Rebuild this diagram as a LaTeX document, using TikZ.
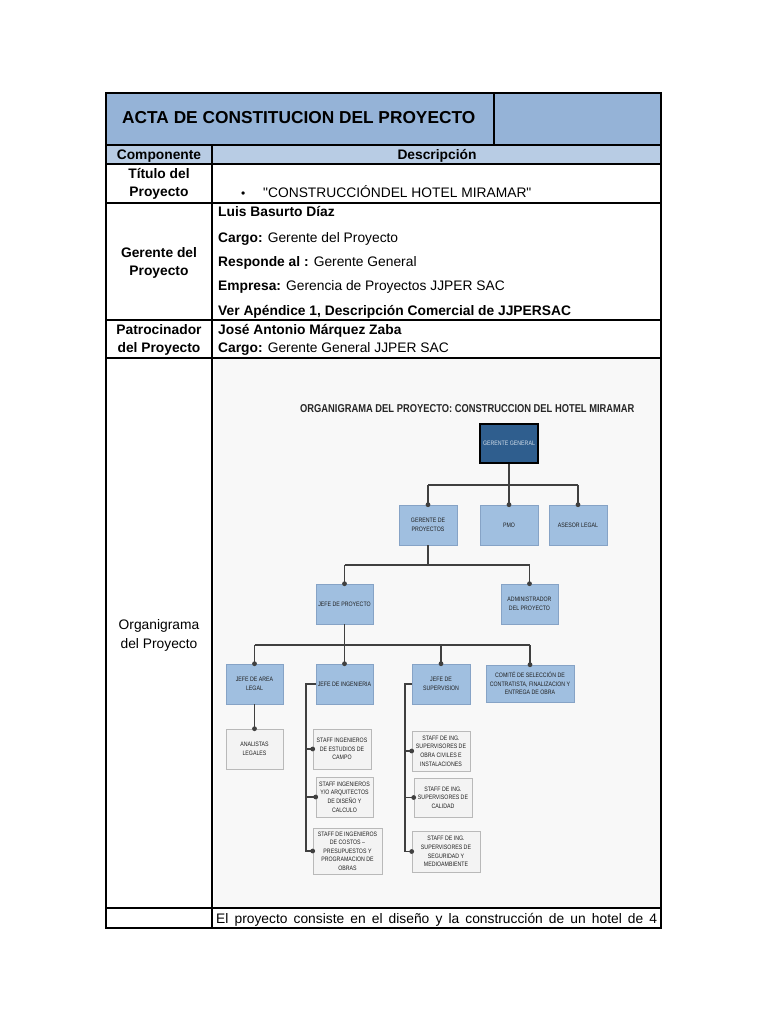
\documentclass[tikz,border=0pt]{standalone}
\usepackage{fontspec}
\setmainfont{Liberation Sans}
\newfontfamily\plainquote{Liberation Sans}
\newfontfamily\narrowfont[FakeStretch=0.82]{Liberation Sans}
\usetikzlibrary{arrows.meta,shadows}
\definecolor{hdr}{HTML}{95B3D7}
\definecolor{subhdr}{HTML}{B8CCE4}
\definecolor{boxblue}{HTML}{A0BFE0}
\definecolor{boxedge}{HTML}{86A3C6}
\definecolor{ggblue}{HTML}{2F5E8E}
\definecolor{ggtext}{HTML}{D3DEEA}
\definecolor{staff}{HTML}{F3F3F3}
\definecolor{conncol}{HTML}{404040}
\definecolor{orgbg}{HTML}{F8F8F8}
\tikzset{
  tblouter/.style={line width=2.6pt, black},
  tblline/.style={line width=2pt, black},
  lbl/.style={anchor=base, inner sep=0, font=\bfseries\fontsize{13.8}{16}\selectfont},
  txt/.style={anchor=base west, inner sep=0, font=\fontsize{13.8}{16}\selectfont},
  boxshadow/.style={drop shadow={shadow xshift=1.2pt, shadow yshift=-1.2pt, opacity=0.22, fill=black}},
  obox/.style={draw=boxedge, fill=boxblue, line width=0.6pt, boxshadow, align=center, inner sep=0,
    text=black!88, font=\narrowfont\fontsize{6.4}{8.6}\selectfont},
  sbox/.style={draw=gray!55, fill=staff, line width=0.6pt, boxshadow, align=center, inner sep=0,
    text=black!88, font=\narrowfont\fontsize{6.4}{8.6}\selectfont},
  ggbox/.style={draw=black, fill=ggblue, line width=1.2pt, align=center, inner sep=0,
    text=ggtext, font=\narrowfont\fontsize{6.4}{8.6}\selectfont},
  conn/.style={draw=conncol, line width=1.3pt},
  dotmark/.style={fill=conncol}
}
\begin{document}
\begin{tikzpicture}[x=1pt, y=-1pt]
\useasboundingbox (0,0) rectangle (768,1024);
\fill[white] (0,0) rectangle (768,1024);
% fills
\fill[hdr] (106,93) rectangle (661,145);
\fill[subhdr] (106,145) rectangle (661,164);
\fill[orgbg] (214,359) rectangle (660,907);
% table lines
\draw[tblline] (106,145) -- (661,145);
\draw[tblline] (106,164) -- (661,164);
\draw[tblline] (106,203) -- (661,203);
\draw[tblline] (106,320) -- (661,320);
\draw[tblline] (106,358) -- (661,358);
\draw[tblline] (106,908) -- (661,908);
\draw[tblline] (494,93) -- (494,145);
\draw[tblline] (212,145) -- (212,928);
\draw[tblouter] (106,93) rectangle (661,928);
% header
\node[anchor=base west, inner sep=0, font=\bfseries\fontsize{17.3}{20}\selectfont] (title) at (122,124) {ACTA DE CONSTITUCION DEL PROYECTO};
\node[lbl] (comp) at (159,160) {Componente};
\node[lbl] (descr) at (437,160) {Descripción};
% titulo row
\node[lbl] (tit1) at (159,179) {Título del};
\node[lbl] (tit2) at (159,197) {Proyecto};
\node[txt, font=\fontsize{12}{13}\selectfont] (bul) at (241,198) {•};
\node[txt] (titv) at (263,198) {{\plainquote"}CONSTRUCCIÓNDEL HOTEL MIRAMAR{\plainquote"}};
% gerente row
\node[lbl] (ger1) at (159,257) {Gerente del};
\node[lbl] (ger2) at (159,275) {Proyecto};
\node[txt] (g1) at (218,217) {\bfseries Luis Basurto Díaz};
\node[txt] (g2) at (218,242) {\bfseries Cargo: \mdseries Gerente del Proyecto};
\node[txt] (g3) at (218,266) {\bfseries Responde al : \mdseries Gerente General};
\node[txt] (g4) at (218,290) {\bfseries Empresa: \mdseries Gerencia de Proyectos JJPER SAC};
\node[txt] (g5) at (218,315) {\bfseries Ver Apéndice 1, Descripción Comercial de JJPERSAC};
% patrocinador row
\node[lbl] (pat1) at (159,334) {Patrocinador};
\node[lbl] (pat2) at (159,352) {del Proyecto};
\node[txt] (p1) at (218,334) {\bfseries José Antonio Márquez Zaba};
\node[txt] (p2) at (218,352) {\bfseries Cargo: \mdseries Gerente General JJPER SAC};
% organigrama row
\node[anchor=base, inner sep=0, font=\fontsize{13.8}{16}\selectfont] (org1) at (159,629) {Organigrama};
\node[anchor=base, inner sep=0, font=\fontsize{13.8}{16}\selectfont] (org2) at (159,648) {del Proyecto};
% last row
\node[txt] (desc) at (216,923) {\makebox[441pt][s]{El proyecto consiste en el diseño y la construcción de un hotel de 4}};

% ===== org chart =====
\node[anchor=base west, inner sep=0, text=black!85, font=\narrowfont\bfseries\fontsize{11.4}{13}\selectfont] (otitle) at (300,412) {ORGANIGRAMA DEL PROYECTO: CONSTRUCCION DEL HOTEL MIRAMAR};

\node[ggbox, minimum width=58, minimum height=39] (gg) at (509,443.5) {GERENTE GENERAL};
\node[obox, minimum width=58, minimum height=40] (gp) at (428,525) {GERENTE DE\\PROYECTOS};
\node[obox, minimum width=58, minimum height=40] (pmo) at (509,525) {PMO};
\node[obox, minimum width=58, minimum height=40] (al) at (578,525) {ASESOR LEGAL};
\node[obox, minimum width=57, minimum height=40] (jp) at (344.5,604) {JEFE DE PROYECTO};
\node[obox, minimum width=57, minimum height=40] (adm) at (529.5,604) {ADMINISTRADOR\\DEL PROYECTO};
\node[obox, minimum width=57, minimum height=40] (jal) at (254.5,684) {JEFE DE AREA\\LEGAL};
\node[obox, minimum width=57, minimum height=40] (jing) at (344.5,684) {JEFE DE INGENIERIA};
\node[obox, minimum width=58, minimum height=40] (jsup) at (441,684) {JEFE DE\\SUPERVISION};
\node[obox, minimum width=88, minimum height=37] (com) at (530,683.5) {COMITÉ DE SELECCIÓN DE\\CONTRATISTA, FINALIZACION Y\\ENTREGA DE OBRA};
\node[sbox, minimum width=57, minimum height=40] (anl) at (254.5,749) {ANALISTAS\\LEGALES};
\node[sbox, minimum width=58, minimum height=40] (si1) at (342,749) {STAFF INGENIEROS\\DE ESTUDIOS DE\\CAMPO};
\node[sbox, minimum width=57, minimum height=40] (si2) at (344.5,797) {STAFF INGENIEROS\\Y/O ARQUITECTOS\\DE DISEÑO Y\\CALCULO};
\node[sbox, minimum width=69, minimum height=46] (si3) at (347.5,851) {STAFF DE INGENIEROS\\DE COSTOS –\\PRESUPUESTOS Y\\PROGRAMACION DE\\OBRAS};
\node[sbox, minimum width=58, minimum height=40] (ss1) at (441,751) {STAFF DE ING.\\SUPERVISORES DE\\OBRA CIVILES E\\INSTALACIONES};
\node[sbox, minimum width=58, minimum height=39] (ss2) at (443,797.5) {STAFF DE ING.\\SUPERVISORES DE\\CALIDAD};
\node[sbox, minimum width=68, minimum height=41] (ss3) at (446,851.5) {STAFF DE ING.\\SUPERVISORES DE\\SEGURIDAD Y\\MEDIOAMBIENTE};

% connectors level 1
\coordinate (b1) at (509,485);
\draw[conn] (gg.south) -- (b1);
\draw[conn] (b1 -| gp.north) -- (b1 -| al.north);
\draw[conn] (b1 -| gp.north) -- (gp.north);
\draw[conn] (b1) -- (pmo.north);
\draw[conn] (b1 -| al.north) -- (al.north);
% level 2
\coordinate (b2) at (428,565);
\draw[conn] (gp.south) -- (b2);
\draw[conn] (b2 -| jp.north) -- (b2 -| adm.north);
\draw[conn] (b2 -| jp.north) -- (jp.north);
\draw[conn] (b2 -| adm.north) -- (adm.north);
% level 3
\coordinate (b3) at (344.5,645);
\draw[conn] (jp.south) -- (b3);
\draw[conn] (b3 -| jal.north) -- (b3 -| com.north);
\draw[conn] (b3 -| jal.north) -- (jal.north);
\draw[conn] (b3) -- (jing.north);
\draw[conn] (b3 -| jsup.north) -- (jsup.north);
\draw[conn] (b3 -| com.north) -- (com.north);
% legal
\draw[conn] (jal.south) -- (anl.north);
% ingenieria
\coordinate (ib) at (306,684);
\draw[conn] (jing.west) -- (ib) |- (si3.west);
\draw[conn] (ib |- si1.west) -- (si1.west);
\draw[conn] (ib |- si2.west) -- (si2.west);
% supervision
\coordinate (sb) at (405,684);
\draw[conn] (jsup.west) -- (sb) |- (ss3.west);
\draw[conn] (sb |- ss1.west) -- (ss1.west);
\draw[conn] (sb |- ss2.west) -- (ss2.west);
% dots
\foreach \n in {gp,pmo,al,jp,adm,jal,jing,jsup,com,anl}{
  \fill[dotmark] (\n.north) circle (2.4);
}
\foreach \n in {si1,si2,si3,ss1,ss2,ss3}{
  \fill[dotmark] (\n.west) circle (2.4);
}
\end{tikzpicture}
\end{document}
